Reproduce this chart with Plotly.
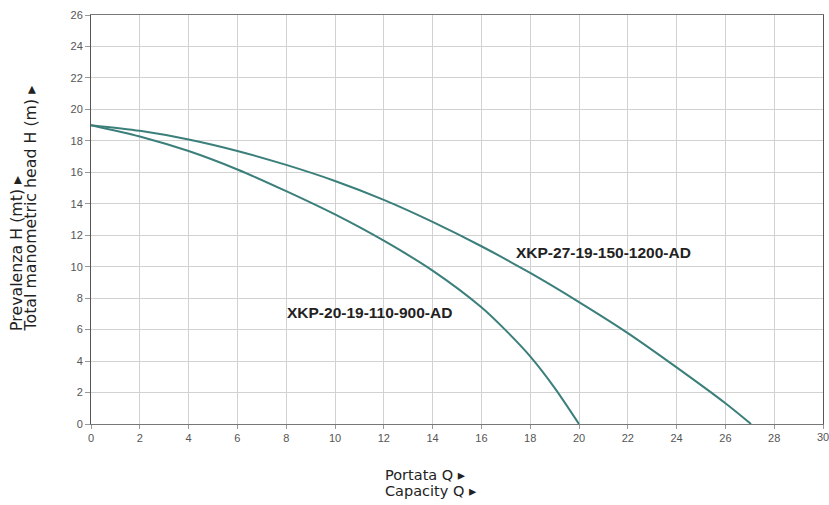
import plotly.graph_objects as go

# Data
q_small = [0, 2, 4, 6, 8, 10, 12, 14, 16, 17, 18, 19, 20]
h_small = [19.0, 18.28, 17.35, 16.18, 14.8, 13.32, 11.65, 9.75, 7.42, 5.95, 4.3, 2.3, 0.0]

q_large = [0, 2, 4, 6, 8, 10, 12, 14, 16, 18, 20, 22, 24, 26, 27.05]
h_large = [19.0, 18.64, 18.09, 17.36, 16.47, 15.45, 14.25, 12.85, 11.3, 9.6, 7.75, 5.78, 3.6, 1.32, 0.0]

label_small = "XKP-20-19-110-900-AD"
label_large = "XKP-27-19-150-1200-AD"

x_ticks = list(range(0, 31, 2))
y_ticks = list(range(0, 27, 2))

line_color = "#3b7f7b"

fig = go.Figure()
fig.add_trace(go.Scatter(x=q_small, y=h_small, mode="lines", line=dict(color=line_color, width=2, shape="spline", smoothing=0.8),
                         showlegend=False, hoverinfo="skip"))
fig.add_trace(go.Scatter(x=q_large, y=h_large, mode="lines", line=dict(color=line_color, width=2, shape="spline", smoothing=0.8),
                         showlegend=False, hoverinfo="skip"))

lab_font = dict(family="Liberation Sans, Arial", size=15.5, color="#222")
fig.add_annotation(x=21.0, y=10.9, text="<b>" + label_large + "</b>", showarrow=False, font=lab_font)
fig.add_annotation(x=11.4, y=7.1, text="<b>" + label_small + "</b>", showarrow=False, font=lab_font)

axis_font = dict(family="Liberation Sans, Arial", size=11, color="#555")

fig.update_xaxes(range=[0, 30], tickvals=x_ticks, showgrid=True, gridcolor="#d2d2d2", gridwidth=1,
                 zeroline=False, showline=True, linecolor="#777", linewidth=1, mirror=True,
                 ticks="outside", ticklen=4, tickcolor="#999", tickfont=axis_font)
fig.update_yaxes(range=[0, 26], tickvals=y_ticks, showgrid=True, gridcolor="#d2d2d2", gridwidth=1,
                 zeroline=False, showline=True, linecolor="#555", linewidth=1, mirror=True,
                 ticks="outside", ticklen=5, tickcolor="#999", tickfont=axis_font)

# last x tick label (placed at the right edge like the reference)
fig.add_annotation(x=30, xref="x", y=-0.012, yref="paper", yanchor="top", text=str(x_ticks[-1]),
                   showarrow=False, font=axis_font)

title_font = dict(family="DejaVu Sans, sans-serif", size=14.5, color="#222")
ytitle_font = dict(family="DejaVu Sans, sans-serif", size=15.8, color="#222")
fig.add_annotation(xref="paper", yref="paper", x=0.3985, y=-0.1247, yanchor="middle", xanchor="left",
                   text="Portata Q ▸", showarrow=False, font=title_font)
fig.add_annotation(xref="paper", yref="paper", x=0.3985, y=-0.1638, yanchor="middle", xanchor="left",
                   text="Capacity Q ▸", showarrow=False, font=title_font)
fig.add_annotation(xref="paper", yref="paper", x=-0.1018, y=0.2225, xanchor="center", yanchor="bottom",
                   text="Prevalenza H (mt) ▸", textangle=-90, showarrow=False, font=ytitle_font)
fig.add_annotation(xref="paper", yref="paper", x=-0.0813, y=0.2225, xanchor="center", yanchor="bottom",
                   text="Total manometric head H (m) ▸", textangle=-90, showarrow=False, font=ytitle_font)

fig.update_layout(width=829, height=505, margin=dict(l=91, r=6, t=15, b=81),
                  paper_bgcolor="white", plot_bgcolor="white")

fig.write_html("out.html")
